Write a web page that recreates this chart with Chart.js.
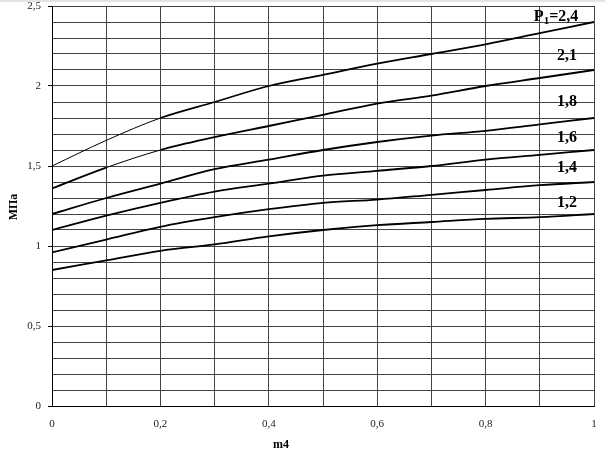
<!DOCTYPE html>
<html>
<head>
<meta charset="utf-8">
<script src="https://cdn.jsdelivr.net/npm/chart.js@4/dist/chart.umd.min.js"></script>
<style>
    html, body { margin: 0; padding: 0; background: #fff; }
    #wrap { width: 605px; height: 452px; position: relative; }
</style>
</head>
<body>
<div id="wrap"><canvas id="chart"></canvas></div>
<script>
// m4 values along the x axis
const m4 = [0, 0.1, 0.2, 0.3, 0.4, 0.5, 0.6, 0.7, 0.8, 0.9, 1];

// pressure curves, MPa, one per P1
const p24 = [1.50, 1.66, 1.80, 1.90, 2.00, 2.07, 2.14, 2.20, 2.26, 2.33, 2.40];
const p21 = [1.36, 1.49, 1.60, 1.68, 1.75, 1.82, 1.89, 1.94, 2.00, 2.05, 2.10];
const p18 = [1.20, 1.30, 1.39, 1.48, 1.54, 1.60, 1.65, 1.69, 1.72, 1.76, 1.80];
const p16 = [1.10, 1.19, 1.27, 1.34, 1.39, 1.44, 1.47, 1.50, 1.54, 1.57, 1.60];
const p14 = [0.96, 1.04, 1.12, 1.18, 1.23, 1.27, 1.29, 1.32, 1.35, 1.38, 1.40];
const p12 = [0.85, 0.91, 0.97, 1.01, 1.06, 1.10, 1.13, 1.15, 1.17, 1.18, 1.20];

const curveLabels = ['2,4', '2,1', '1,8', '1,6', '1,4', '1,2'];
const curves = [p24, p21, p18, p16, p14, p12];

const toPoints = (ys) => m4.map((x, i) => ({ x: x, y: ys[i] }));

// a few segments in the original are drawn with a thin pen
const thinSegs = [[0, 1], [1], [], [], [], []];

const datasets = curves.map((ys, k) => ({
    label: curveLabels[k],
    data: toPoints(ys),
    borderColor: '#000',
    borderWidth: 1.8,
    pointRadius: 0,
    cubicInterpolationMode: 'monotone',
    segment: {
        borderWidth: ctx => thinSegs[k].includes(ctx.p0DataIndex) ? 1 : 1.8
    }
}));

const serif = '"Liberation Serif", "Times New Roman", serif';

// curve names, axis titles
const labelsPlugin = {
    id: 'curveLabels',
    afterDraw(chart) {
        const ctx = chart.ctx;
        const xs = chart.scales.x;
        const ys = chart.scales.y;
        const labelY = [2.43, 2.19, 1.90, 1.675, 1.49, 1.27];
        ctx.save();
        ctx.fillStyle = '#000';
        ctx.textBaseline = 'middle';
        curveLabels.forEach((txt, i) => {
            const y = ys.getPixelForValue(labelY[i]);
            if (i === 0) {
                const cx = xs.getPixelForValue(0.93);
                ctx.font = 'bold 16px ' + serif;
                const wP = ctx.measureText('P').width;
                const wR = ctx.measureText('=' + txt).width;
                ctx.font = 'bold 11px ' + serif;
                const w1 = ctx.measureText('1').width;
                let x = cx - (wP + w1 + wR) / 2;
                ctx.textAlign = 'left';
                ctx.font = 'bold 16px ' + serif;
                ctx.fillText('P', x, y);
                x += wP;
                ctx.font = 'bold 11px ' + serif;
                ctx.fillText('1', x, y + 4);
                x += w1;
                ctx.font = 'bold 16px ' + serif;
                ctx.fillText('=' + txt, x, y);
            } else {
                ctx.font = 'bold 16px ' + serif;
                ctx.textAlign = 'center';
                ctx.fillText(txt, xs.getPixelForValue(0.95), y);
            }
        });

        // axis titles
        ctx.font = 'bold 12px ' + serif;
        ctx.textAlign = 'center';
        ctx.fillText('m4', 281, 445);
        ctx.translate(14, 207);
        ctx.rotate(-Math.PI / 2);
        ctx.fillText('МПа', 0, 0);
        ctx.restore();
    }
};

const whiteBg = {
    id: 'whiteBg',
    beforeDraw(chart) {
        const ctx = chart.ctx;
        ctx.save();
        ctx.fillStyle = '#fff';
        ctx.fillRect(0, 0, chart.width, chart.height);
        ctx.fillStyle = '#e4e4e4';
        ctx.fillRect(0, 0, chart.width, 2);
        ctx.restore();
    }
};

new Chart(document.getElementById('chart'), {
    type: 'line',
    data: { datasets: datasets },
    options: {
        responsive: true,
        maintainAspectRatio: false,
        animation: false,
        layout: { padding: { top: 6, right: 11, left: 0, bottom: 0 } },
        plugins: {
            legend: { display: false },
            tooltip: { enabled: false }
        },
        scales: {
            x: {
                type: 'linear',
                min: 0,
                max: 1,
                afterFit: s => {
                    s.height = 46;
                    s.paddingLeft = 0;
                    s.paddingRight = 0;
                },
                border: { color: '#000', width: 1 },
                grid: {
                    color: '#444',
                    lineWidth: 1,
                    tickLength: 0
                },
                ticks: {
                    stepSize: 0.1,
                    autoSkip: false,
                    maxRotation: 0,
                    padding: 12,
                    color: '#222',
                    font: { family: serif, size: 11 },
                    callback: v => {
                        const r = Math.round(v * 10);
                        return r % 2 === 0 ? String(r / 10).replace('.', ',') : '';
                    }
                }
            },
            y: {
                min: 0,
                max: 2.5,
                afterFit: s => {
                    s.width = 52;
                    s.paddingTop = 0;
                    s.paddingBottom = 0;
                },
                border: { color: '#000', width: 1 },
                grid: {
                    color: '#444',
                    lineWidth: 1,
                    tickLength: 4,
                    tickColor: c => (Math.round(c.tick.value * 10) % 5 === 0 ? '#000' : 'rgba(0,0,0,0)')
                },
                ticks: {
                    stepSize: 0.1,
                    autoSkip: false,
                    padding: 7,
                    color: '#222',
                    font: { family: serif, size: 11 },
                    callback: v => {
                        const r = Math.round(v * 10);
                        return r % 5 === 0 ? String(r / 10).replace('.', ',') : '';
                    }
                }
            }
        }
    },
    plugins: [whiteBg, labelsPlugin]
});
</script>
</body>
</html>
